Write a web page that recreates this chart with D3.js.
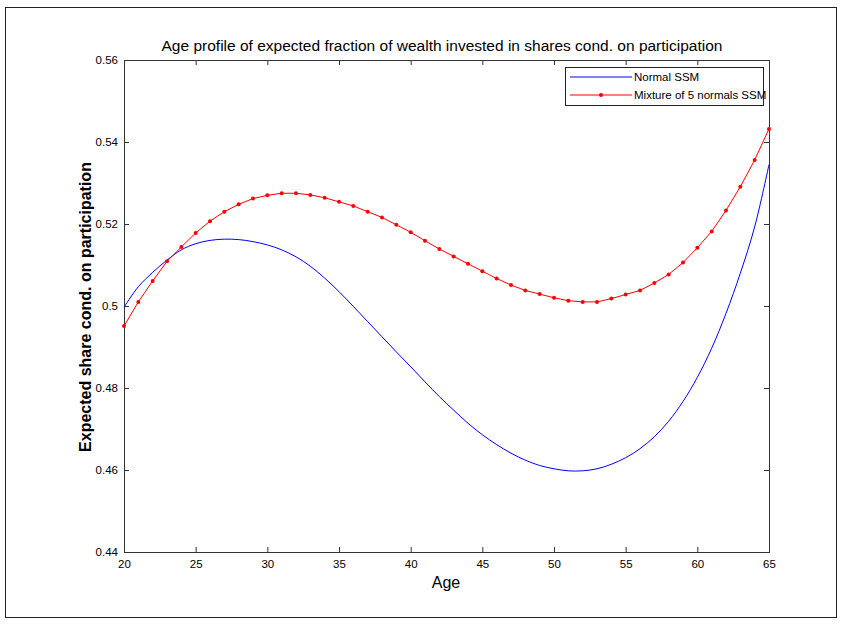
<!DOCTYPE html>
<html>
<head>
<meta charset="utf-8">
<script src="https://cdn.jsdelivr.net/npm/d3@7"></script>
<style>
    body { margin: 0; background: #fff; }
    svg text { font-family: "Liberation Sans", Arial, sans-serif; fill: #000; }
</style>
</head>
<body>
<div id="chart"></div>
<script>
let ages = d3.range(20, 66);

let normalSSM = [
    0.4997, 0.5047, 0.5082, 0.5112, 0.5137, 0.5152, 0.5160, 0.5163, 0.5162, 0.5157,
    0.5149, 0.5137, 0.5120, 0.5097, 0.5068, 0.5035, 0.4999, 0.4962, 0.4925, 0.4888,
    0.4852, 0.4815, 0.4779, 0.4746, 0.4714, 0.4686, 0.4662, 0.4641, 0.4624, 0.4611,
    0.4603, 0.4598, 0.4598, 0.4603, 0.4614, 0.4630, 0.4652, 0.4681, 0.4719, 0.4767,
    0.4826, 0.4897, 0.4982, 0.5080, 0.5193, 0.5345
];

let mixtureSSM = [
    0.4951, 0.5010, 0.5061, 0.5109, 0.5144, 0.5178, 0.5207, 0.5230, 0.5248, 0.5262,
    0.5270, 0.5275, 0.5275, 0.5271, 0.5264, 0.5254, 0.5244, 0.5230, 0.5216, 0.5198,
    0.5180, 0.5159, 0.5139, 0.5121, 0.5103, 0.5085, 0.5067, 0.5051, 0.5038, 0.5029,
    0.5020, 0.5013, 0.5010, 0.5010, 0.5018, 0.5028, 0.5038, 0.5056, 0.5077, 0.5106,
    0.5142, 0.5182, 0.5233, 0.5291, 0.5356, 0.5432
];

let xTicks = [20, 25, 30, 35, 40, 45, 50, 55, 60, 65];
let yTicks = [0.44, 0.46, 0.48, 0.5, 0.52, 0.54, 0.56];
let seriesNames = ['Normal SSM', 'Mixture of 5 normals SSM'];
let colors = ['#0000ff', '#ff0000'];

let title = 'Age profile of expected fraction of wealth invested in shares cond. on participation',
    xLabel = 'Age',
    yLabel = 'Expected share cond. on participation';

let width = 845, height = 624,
    margin = {top: 60, right: 76, bottom: 72, left: 124},
    w = width - margin.left - margin.right,
    h = height - margin.top - margin.bottom;

let svg = d3.select('#chart').append('svg')
    .attr('width', width)
    .attr('height', height);

// figure frame
svg.append('rect')
    .attr('x', 5.5).attr('y', 7.5)
    .attr('width', 831).attr('height', 610)
    .style('fill', 'none')
    .style('stroke', '#222')
    .style('stroke-width', 1);

let g = svg.append('g').attr('transform', 'translate(' + margin.left + ',' + margin.top + ')');

let x = d3.scaleLinear().domain([20, 65]).range([0, w]);
let y = d3.scaleLinear().domain([0.44, 0.56]).range([h, 0]);

let axisColor = '#333';

function styleAxis(sel, hideText) {
    sel.select('.domain').remove();
    sel.selectAll('line').style('stroke', axisColor);
    sel.selectAll('text').style('font-size', '11.5px');
    if (hideText) sel.selectAll('text').remove();
}

// ticks point inward, like matlab
g.append('g')
    .attr('transform', 'translate(0,' + h + ')')
    .call(d3.axisBottom(x).tickValues(xTicks).tickSize(-5).tickPadding(8).tickFormat(d3.format('d')))
    .call(s => styleAxis(s, false));

g.append('g')
    .call(d3.axisTop(x).tickValues(xTicks).tickSize(-5))
    .call(s => styleAxis(s, true));

g.append('g')
    .call(d3.axisLeft(y).tickValues(yTicks).tickSize(-5).tickPadding(6).tickFormat(d => d3.format('')(+d.toFixed(2))))
    .call(s => styleAxis(s, false));

g.append('g')
    .attr('transform', 'translate(' + w + ',0)')
    .call(d3.axisRight(y).tickValues(yTicks).tickSize(-5))
    .call(s => styleAxis(s, true));

g.append('rect')
    .attr('x', 0.5).attr('y', 0.5)
    .attr('width', w).attr('height', h)
    .style('fill', 'none')
    .style('stroke', axisColor)
    .style('stroke-width', 1);

// lines
let blueLine = d3.line()
    .x((d, i) => x(ages[i]))
    .y(d => y(d))
    .curve(d3.curveCatmullRom);

let redLine = d3.line()
    .x((d, i) => x(ages[i]))
    .y(d => y(d));

g.append('path')
    .datum(normalSSM)
    .style('fill', 'none')
    .style('stroke', colors[0])
    .style('stroke-width', 1)
    .attr('d', blueLine);

g.append('path')
    .datum(mixtureSSM)
    .style('fill', 'none')
    .style('stroke', colors[1])
    .style('stroke-width', 1)
    .attr('d', redLine);

g.selectAll('circle.pt')
    .data(mixtureSSM)
    .enter().append('circle')
    .attr('class', 'pt')
    .attr('cx', (d, i) => x(ages[i]))
    .attr('cy', d => y(d))
    .attr('r', 2)
    .style('fill', colors[1]);

// legend
let legend = svg.append('g').attr('transform', 'translate(565,67)');
legend.append('rect')
    .attr('x', 0.5).attr('y', 0.5)
    .attr('width', 198).attr('height', 38)
    .style('fill', '#fff')
    .style('stroke', '#222');

seriesNames.forEach((name, i) => {
    let ly = 10 + i * 18;
    legend.append('line')
        .attr('x1', 5).attr('x2', 67)
        .attr('y1', ly).attr('y2', ly)
        .style('stroke', colors[i])
        .style('stroke-width', 1);
    if (i === 1) {
        legend.append('circle')
            .attr('cx', 36).attr('cy', ly).attr('r', 2)
            .style('fill', colors[i]);
    }
    legend.append('text')
        .attr('x', 69).attr('y', ly + 4)
        .style('font-size', '11.5px')
        .text(name);
});

// titles
svg.append('text')
    .attr('x', 442).attr('y', 51)
    .attr('text-anchor', 'middle')
    .style('font-size', '15.5px')
    .text(title);

svg.append('text')
    .attr('x', 446).attr('y', 588)
    .attr('text-anchor', 'middle')
    .style('font-size', '16px')
    .text(xLabel);

svg.append('text')
    .attr('transform', 'translate(91,307) rotate(-90)')
    .attr('text-anchor', 'middle')
    .style('font-size', '16px')
    .style('font-weight', 'bold')
    .text(yLabel);
</script>
</body>
</html>
